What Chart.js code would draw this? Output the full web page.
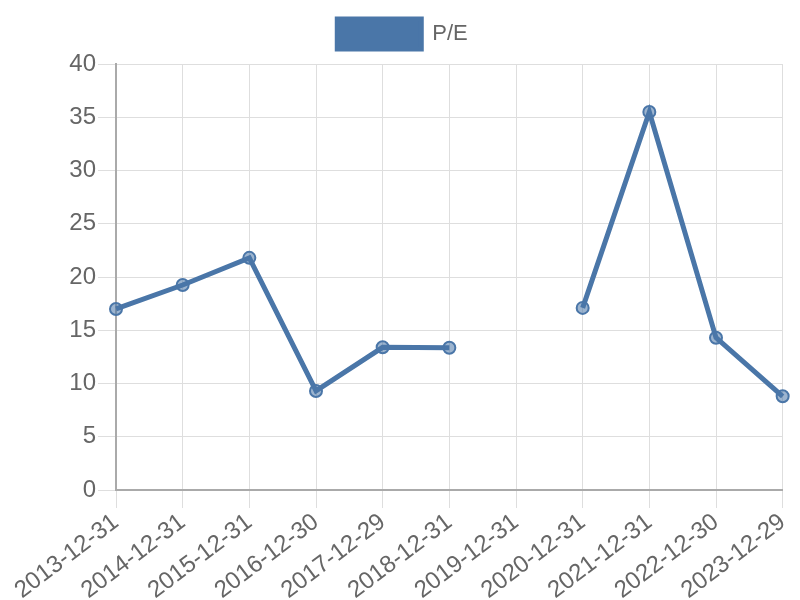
<!DOCTYPE html>
<html>
<head>
<meta charset="utf-8">
<script src="https://cdn.jsdelivr.net/npm/chart.js@4/dist/chart.umd.min.js"></script>
<style>
  html, body { margin: 0; padding: 0; background: #fff; }
  #wrap { width: 800px; height: 600px; }
</style>
</head>
<body>
<div id="wrap"><canvas id="pe"></canvas></div>
<script>
// Fiscal year-end dates and P/E ratios (2019 missing)
const dates = ['2013-12-31', '2014-12-31', '2015-12-31', '2016-12-30', '2017-12-29', '2018-12-31',
  '2019-12-31', '2020-12-31', '2021-12-31', '2022-12-30', '2023-12-29'];
const peValues = [17.0, 19.25, 21.8, 9.3, 13.4, 13.35, null, 17.1, 35.5, 14.3, 8.8];

const lineBlue = '#4a76a8';

Chart.defaults.font.family = "'Liberation Sans', Arial, sans-serif";
Chart.defaults.color = '#666';

// a bit of extra space between the legend and the plot
const legendGap = {
  id: 'legendGap',
  beforeInit(chart) {
    const fit = chart.legend.fit;
    chart.legend.fit = function () {
      fit.call(this);
      this.height += 5;
    };
  }
};

new Chart(document.getElementById('pe').getContext('2d'), {
  type: 'line',
  data: {
    labels: dates,
    datasets: [{
      label: 'P/E',
      data: peValues,
      borderColor: lineBlue,
      backgroundColor: lineBlue,
      borderWidth: 5,
      pointRadius: 6,
      pointBorderWidth: 2,
      pointBackgroundColor: 'rgba(74, 118, 168, 0.55)',
      pointBorderColor: lineBlue,
      spanGaps: false,
      tension: 0
    }]
  },
  options: {
    responsive: true,
    maintainAspectRatio: false,
    animation: false,
    layout: { padding: { top: 3, right: 5, bottom: 0, left: 10 } },
    scales: {
      x: {
        grid: { color: '#dedede', tickLength: 18 },
        border: { color: '#aaa', width: 2 },
        ticks: { font: { size: 24 }, maxRotation: 37, minRotation: 37, padding: 0 },
        afterFit: (scale) => { scale.height = 110; }
      },
      y: {
        min: 0,
        max: 40,
        grid: { color: '#dedede', tickLength: 18 },
        border: { color: '#aaa', width: 2 },
        ticks: { stepSize: 5, font: { size: 24 }, padding: 2 },
        // leave room on the left for the first rotated date label
        afterFit: (scale) => { scale.width = 106; }
      }
    },
    plugins: {
      legend: {
        labels: { boxWidth: 84, boxHeight: 30, font: { size: 22 }, padding: 16 }
      },
      tooltip: { enabled: false }
    }
  },
  plugins: [legendGap]
});
</script>
</body>
</html>
